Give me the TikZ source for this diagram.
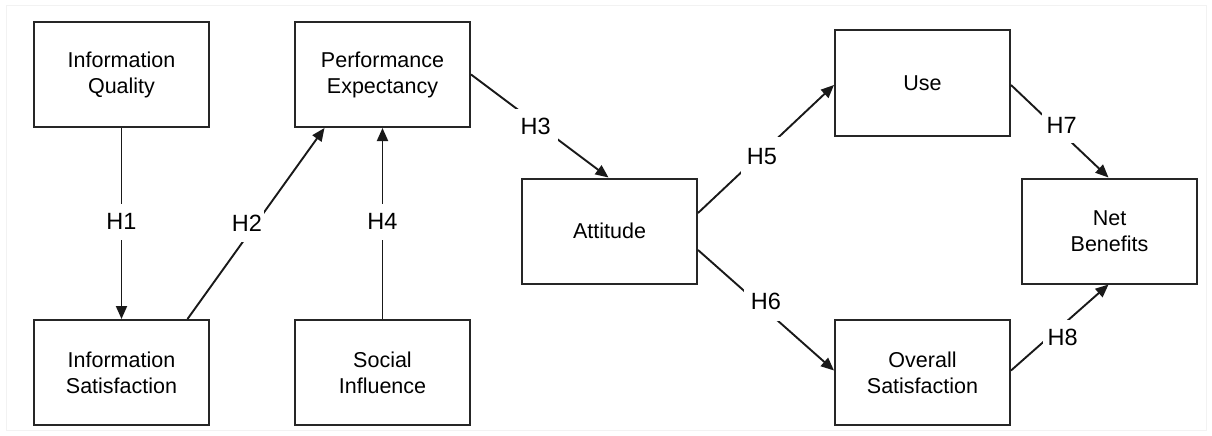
\documentclass[tikz,border=0pt]{standalone}
\usepackage{fontspec}
\setmainfont{Liberation Sans}
\usetikzlibrary{arrows.meta}
\begin{document}
\begin{tikzpicture}[x=1pt,y=-1pt,
  box/.style={draw=black!85, line width=2pt, minimum width=175pt, minimum height=105pt,
    inner sep=0pt, align=center, font=\fontsize{21.5}{26}\selectfont},
  arr/.style={draw=black!90, line width=1.9pt, -{Triangle[length=13pt,width=11pt]}},
  lbl/.style={fill=white, inner sep=0pt, minimum width=40pt, minimum height=36pt,
    font=\fontsize{23.5}{26}\selectfont}
]
\useasboundingbox (0,0) rectangle (1212,436);
\fill[white] (0,0) rectangle (1212,436);
\draw[black!5, line width=1pt] (6,6) rectangle (1206,430);

\node[box] (iq)  at (121.5,74.5)  {Information\\Quality};
\node[box] (is)  at (121.5,372.5) {Information\\Satisfaction};
\node[box] (pe)  at (382.5,74.5)  {Performance\\Expectancy};
\node[box] (si)  at (382.5,372.5) {Social\\Influence};
\node[box] (att) at (609.5,231)   {Attitude};
\node[box] (use) at (922.5,83)    {Use};
\node[box] (os)  at (922.5,372.5) {Overall\\Satisfaction};
\node[box] (nb)  at (1109.5,231)  {Net\\Benefits};

\draw[arr] (iq.south) -- node[lbl, pos=0.49] (h1) {H1} (is.north);
\draw[arr] ([xshift=66pt]is.north) -- node[lbl, pos=0.5, xshift=-9pt, minimum width=34pt] (h2) {H2} ([xshift=-58pt]pe.south);
\draw[arr] (si.north) -- node[lbl, pos=0.51] (h4) {H4} (pe.south);
\draw[arr] (pe.east) -- node[lbl, pos=0.5, xshift=-4pt, minimum width=44pt, minimum height=34pt] (h3) {H3} ([xshift=-1pt]att.north);
\draw[arr] ([yshift=18pt]att.east) -- node[lbl, pos=0.5, xshift=-4pt, yshift=-8pt, minimum width=42pt, minimum height=40pt] (h5) {H5} ([yshift=-2pt]use.west);
\draw[arr] ([yshift=-19pt]att.east) -- node[lbl, pos=0.5, yshift=9pt, minimum width=44pt, minimum height=40pt] (h6) {H6} ([yshift=2pt]os.west);
\draw[arr] ([yshift=-2pt]use.east) -- node[lbl, pos=0.5, xshift=2pt, yshift=6pt, minimum width=40pt, minimum height=36pt] (h7) {H7} ([xshift=-1pt]nb.north);
\draw[arr] ([yshift=2pt]os.east) -- node[lbl, pos=0.5, xshift=3pt, yshift=-10pt, minimum width=40pt, minimum height=36pt] (h8) {H8} ([xshift=-1pt]nb.south);
\end{tikzpicture}
\end{document}
